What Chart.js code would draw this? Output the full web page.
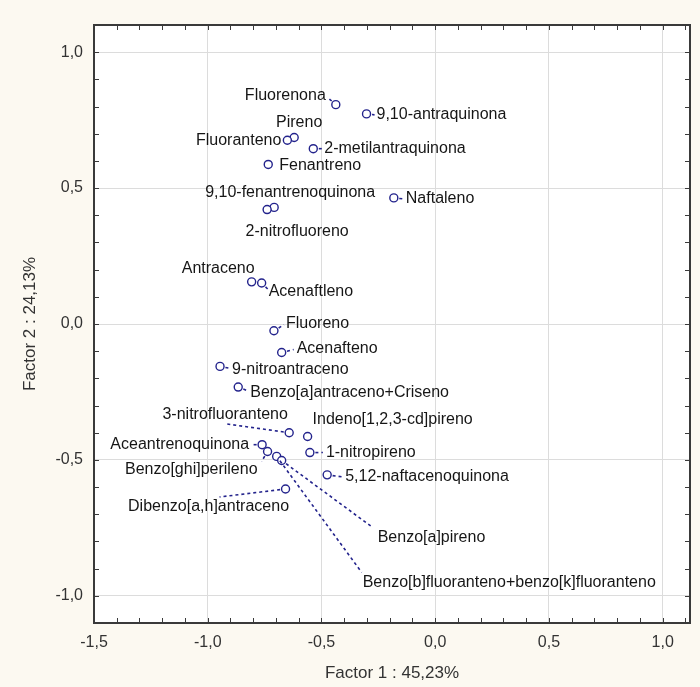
<!DOCTYPE html>
<html>
<head>
<meta charset="utf-8">
<script src="https://cdn.jsdelivr.net/npm/chart.js@4.4.1/dist/chart.umd.min.js"></script>
<style>
  html, body { margin: 0; padding: 0; background: #fcf9f1; }
  #wrap { width: 700px; height: 687px; }
</style>
</head>
<body>
<div id="wrap"><canvas id="c" width="700" height="687"></canvas></div>
<script>
// Compound names and their loadings on the first two factors
const compounds = [
  'Fluorenona', '9,10-antraquinona', 'Pireno', 'Fluoranteno', '2-metilantraquinona',
  'Fenantreno', 'Naftaleno', '9,10-fenantrenoquinona', '2-nitrofluoreno', 'Antraceno',
  'Acenaftleno', 'Fluoreno', 'Acenafteno', '9-nitroantraceno', 'Benzo[a]antraceno+Criseno',
  '3-nitrofluoranteno', 'Indeno[1,2,3-cd]pireno', '1-nitropireno', '5,12-naftacenoquinona',
  'Aceantrenoquinona', 'Benzo[ghi]perileno', 'Benzo[b]fluoranteno+benzo[k]fluoranteno',
  'Benzo[a]pireno', 'Dibenzo[a,h]antraceno'
];
const factor1 = [
  -0.437, -0.302, -0.620, -0.650, -0.536,
  -0.734, -0.182, -0.708, -0.739, -0.807,
  -0.763, -0.709, -0.675, -0.946, -0.866,
  -0.642, -0.561, -0.551, -0.475,
  -0.761, -0.737, -0.697,
  -0.675, -0.658
];
const factor2 = [
   0.807,  0.773,  0.686,  0.676,  0.645,
   0.587,  0.464,  0.429,  0.421,  0.155,
   0.151, -0.025, -0.105, -0.156, -0.232,
  -0.400, -0.414, -0.473, -0.555,
  -0.444, -0.469, -0.487,
  -0.502, -0.607
];
const xTickValues = [-1.5, -1.0, -0.5, 0.0, 0.5, 1.0];
const yTickValues = [-1.0, -0.5, 0.0, 0.5, 1.0];
const xTitle = 'Factor 1 : 45,23%';
const yTitle = 'Factor 2 : 24,13%';

// Label placement around each marker (pixel offsets from the marker centre)
// dx, dy: text anchor; align: text alignment; lead: end of the leader line
const labelLayout = {
  'Fluorenona':               { dx: -10, dy: -9,  align: 'right',  lead: [-8, -7] },
  '9,10-antraquinona':        { dx: 10,  dy: 1,   align: 'left',   lead: [8, 1] },
  'Pireno':                   { dx: 5,   dy: -15, align: 'center', lead: null },
  'Fluoranteno':              { dx: -6,  dy: 0,   align: 'right',  lead: null },
  '2-metilantraquinona':      { dx: 11,  dy: 0,   align: 'left',   lead: [9, 0] },
  'Fenantreno':               { dx: 11,  dy: 1,   align: 'left',   lead: null },
  'Naftaleno':                { dx: 12,  dy: 1,   align: 'left',   lead: [9, 1] },
  '9,10-fenantrenoquinona':   { dx: 16,  dy: -15, align: 'center', lead: null },
  '2-nitrofluoreno':          { dx: 30,  dy: 22,  align: 'center', lead: null },
  'Antraceno':                { dx: 3,   dy: -13, align: 'right',  lead: null },
  'Acenaftleno':              { dx: 7,   dy: 9,   align: 'left',   lead: [6, 6] },
  'Fluoreno':                 { dx: 12,  dy: -7,  align: 'left',   lead: [10, -6] },
  'Acenafteno':               { dx: 15,  dy: -4,  align: 'left',   lead: [12, -3] },
  '9-nitroantraceno':         { dx: 12,  dy: 3,   align: 'left',   lead: [10, 2] },
  'Benzo[a]antraceno+Criseno':{ dx: 12,  dy: 6,   align: 'left',   lead: [10, 4] },
  '3-nitrofluoranteno':       { dx: -64, dy: -18, align: 'center', lead: [-64, -9] },
  'Indeno[1,2,3-cd]pireno':   { dx: 5,   dy: -17, align: 'left',   lead: null },
  '1-nitropireno':            { dx: 16,  dy: 0,   align: 'left',   lead: [13, 0] },
  '5,12-naftacenoquinona':    { dx: 18,  dy: 2,   align: 'left',   lead: [15, 2] },
  'Aceantrenoquinona':        { dx: -13, dy: 0,   align: 'right',  lead: [-9, 0] },
  'Benzo[ghi]perileno':       { dx: -10, dy: 18,  align: 'right',  lead: [-6, 10] },
  'Benzo[b]fluoranteno+benzo[k]fluoranteno': { dx: 86, dy: 126, align: 'left', lead: [85, 116] },
  'Benzo[a]pireno':           { dx: 96,  dy: 77,  align: 'left',   lead: [91, 67] },
  'Dibenzo[a,h]antraceno':    { dx: -77, dy: 18,  align: 'center', lead: [-66, 8] }
};

const MARK = '#23238c';
const FONT = '"Liberation Sans", Arial, sans-serif';
const fmt = v => v.toFixed(1).replace('.', ',').replace('-0,0', '0,0');

// White plotting area
const plotBackground = {
  id: 'plotBackground',
  beforeDraw(chart) {
    const { ctx, chartArea: a } = chart;
    ctx.save();
    ctx.fillStyle = '#ffffff';
    ctx.fillRect(a.left, a.top, a.right - a.left, a.bottom - a.top);
    ctx.restore();
  }
};

// Frame with inward ticks every 0.1 on all four sides
const frameTicks = {
  id: 'frameTicks',
  afterDatasetsDraw(chart) {
    const { ctx, chartArea: a, scales } = chart;
    const len = 5;
    ctx.save();
    ctx.strokeStyle = '#3a3a3a';
    ctx.lineWidth = 1;
    ctx.beginPath();
    for (let k = -15; k <= 11; k++) {
      const px = Math.round(scales.x.getPixelForValue(k / 10)) + 0.5;
      if (px < a.left || px > a.right) continue;
      ctx.moveTo(px, a.top); ctx.lineTo(px, a.top + len);
      ctx.moveTo(px, a.bottom); ctx.lineTo(px, a.bottom - len);
    }
    for (let k = -11; k <= 11; k++) {
      const py = Math.round(scales.y.getPixelForValue(k / 10)) + 0.5;
      if (py < a.top || py > a.bottom) continue;
      ctx.moveTo(a.left, py); ctx.lineTo(a.left + len, py);
      ctx.moveTo(a.right, py); ctx.lineTo(a.right - len, py);
    }
    ctx.stroke();
    ctx.lineWidth = 2;
    ctx.strokeRect(a.left, a.top, a.right - a.left, a.bottom - a.top);
    ctx.restore();
  }
};

// Point names with dashed leader lines
const pointLabels = {
  id: 'pointLabels',
  afterDatasetsDraw(chart) {
    const { ctx } = chart;
    const meta = chart.getDatasetMeta(0);
    ctx.save();
    ctx.font = '16px ' + FONT;
    ctx.textBaseline = 'middle';
    meta.data.forEach((pt, i) => {
      const name = compounds[i];
      const L = labelLayout[name];
      if (!L) return;
      if (L.lead) {
        const len = Math.hypot(L.lead[0], L.lead[1]);
        const ux = L.lead[0] / len, uy = L.lead[1] / len;
        const sx = pt.x + ux * 5.5, sy = pt.y + uy * 5.5;
        const ex = pt.x + L.lead[0], ey = pt.y + L.lead[1];
        ctx.strokeStyle = MARK;
        ctx.lineWidth = 1.6;
        ctx.setLineDash([3, 3]);
        ctx.beginPath();
        ctx.moveTo(sx, sy);
        ctx.lineTo(ex, ey);
        ctx.stroke();
        ctx.setLineDash([]);
      }
      ctx.fillStyle = '#161616';
      ctx.textAlign = L.align;
      ctx.fillText(name, pt.x + L.dx, pt.y + L.dy);
    });
    ctx.restore();
  }
};

new Chart(document.getElementById('c'), {
  type: 'scatter',
  data: {
    datasets: [{
      data: factor1.map((x, i) => ({ x, y: factor2[i] })),
      pointStyle: 'circle',
      pointRadius: 4,
      borderColor: MARK,
      backgroundColor: '#ffffff',
      borderWidth: 1.4
    }]
  },
  options: {
    responsive: false,
    animation: false,
    layout: { padding: { top: 25, right: 10, left: 0, bottom: 0 } },
    plugins: { legend: { display: false }, tooltip: { enabled: false } },
    scales: {
      x: {
        type: 'linear',
        min: -1.5,
        max: 1.12,
        afterBuildTicks: s => { s.ticks = xTickValues.map(v => ({ value: v })); },
        afterFit: s => { s.height = 64; },
        border: { display: false },
        grid: { color: '#dcdcdc', drawTicks: false },
        ticks: {
          padding: 10,
          color: '#333333',
          font: { family: FONT, size: 16 },
          callback: v => fmt(v)
        },
        title: {
          display: true,
          text: xTitle,
          color: '#333333',
          font: { family: FONT, size: 17 },
          padding: { top: 0, bottom: 3 }
        }
      },
      y: {
        type: 'linear',
        min: -1.1,
        max: 1.1,
        afterBuildTicks: s => { s.ticks = yTickValues.map(v => ({ value: v })); },
        afterFit: s => { s.width = 94; },
        border: { display: false },
        grid: { color: '#dcdcdc', drawTicks: false },
        ticks: {
          padding: 11,
          color: '#333333',
          font: { family: FONT, size: 16 },
          callback: v => fmt(v)
        },
        title: {
          display: true,
          text: yTitle,
          color: '#333333',
          font: { family: FONT, size: 17 },
          padding: { top: 20, bottom: 0 }
        }
      }
    }
  },
  plugins: [plotBackground, frameTicks, pointLabels]
});
</script>
</body>
</html>
